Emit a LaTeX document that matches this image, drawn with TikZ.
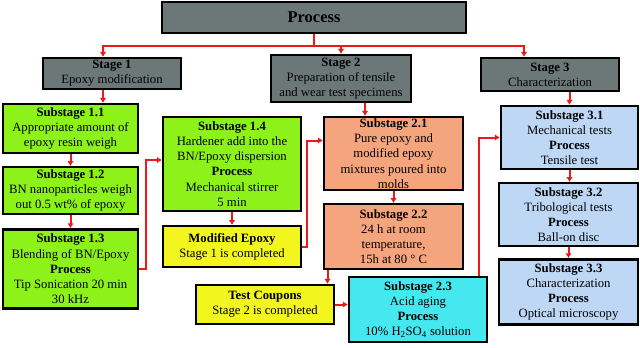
\documentclass[tikz,border=0pt]{standalone}
\usepackage{fontspec}
\setmainfont{Liberation Serif}
\definecolor{EPXGray}{RGB}{108,120,120}
\definecolor{EPXGreen}{RGB}{140,242,25}
\definecolor{EPXYellow}{RGB}{242,245,30}
\definecolor{EPXSalmon}{RGB}{245,165,125}
\definecolor{EPXCyan}{RGB}{70,232,240}
\definecolor{EPXBlue}{RGB}{190,215,245}
\definecolor{EPXRed}{RGB}{235,25,25}
\usepackage{tikz}
\usetikzlibrary{arrows.meta, positioning}
\tikzset{
  box/.style={rectangle, draw=black, line width=2.2pt, inner sep=1pt,
    minimum width=138pt, align=center, font=\fontsize{12.7}{15.2}\selectfont},
  stagebox/.style={box, fill=EPXGray},
  subgreen/.style={box, fill=EPXGreen},
  subyellow/.style={box, fill=EPXYellow},
  subsalmon/.style={box, fill=EPXSalmon},
  subcyan/.style={box, fill=EPXCyan},
  subblue/.style={box, fill=EPXBlue},
  arrow/.style={-{Latex[length=5pt,width=6.5pt]}, line width=2pt, draw=EPXRed}
}

\begin{document}
\begin{tikzpicture}[x=1pt, y=1pt, node distance=12pt]
  \fill[white] (0,0) rectangle (640,-348);
  \useasboundingbox (0,0) rectangle (640,-348);

  \node[stagebox, minimum width=304pt, minimum height=31pt,
    font=\fontsize{16.5}{20}\selectfont\bfseries] (process) at (314,-17.5) {Process};

  % stages
  \node[stagebox, minimum height=31pt] (stage1) at (112,-73.5)
    {\textbf{Stage 1}\\Epoxy modification};
  \node[stagebox, minimum width=140pt, minimum height=47pt] (stage2) at (341,-78.5)
    {\textbf{Stage 2}\\Preparation of tensile\\and wear test specimens};
  \node[stagebox, minimum height=33pt] (stage3) at (550,-74.5)
    {\textbf{Stage 3}\\Characterization};

  % stage 1
  \node[subgreen, minimum width=135pt, minimum height=49pt] (s11) at (70.5,-128.5)
    {\textbf{Substage 1.1}\\Appropriate amount of\\epoxy resin weigh};
  \node[subgreen, minimum width=135pt, minimum height=47pt, below=12pt of s11] (s12)
    {\textbf{Substage 1.2}\\BN nanoparticles weigh\\out 0.5 wt\% of epoxy};
  \node[subgreen, minimum width=135pt, minimum height=79pt, below=13pt of s12] (s13)
    {\textbf{Substage 1.3}\\Blending of BN/Epoxy\\\textbf{Process}\\Tip Sonication 20 min\\30 kHz};
  \node[subgreen, minimum height=94pt] (s14) at (232,-164)
    {\textbf{Substage 1.4}\\Hardener add into the\\BN/Epoxy dispersion\\\textbf{Process}\\Mechanical stirrer\\5 min};
  \node[subyellow, minimum height=41pt, below=13pt of s14] (mod)
    {\textbf{Modified Epoxy}\\Stage 1 is completed};

  % stage 2
  \node[subsalmon, minimum width=139pt, minimum height=73pt] (s21) at (393.5,-153.5)
    {\textbf{Substage 2.1}\\Pure epoxy and\\modified epoxy\\mixtures poured into\\molds};
  \node[subsalmon, minimum width=139pt, minimum height=65pt, below=12pt of s21] (s22)
    {\textbf{Substage 2.2}\\24 h at room\\temperature,\\15h at 80 ° C};
  \node[subyellow, minimum height=39pt] (coup) at (265,-304.5)
    {\textbf{Test Coupons}\\Stage 2 is completed};
  \node[subcyan, minimum height=65pt] (s23) at (418,-309.5)
    {\textbf{Substage 2.3}\\Acid aging\\\textbf{Process}\\10\% H\textsubscript{2}SO\textsubscript{4} solution};

  % stage 3
  \node[subblue, minimum width=137pt, minimum height=63pt] (s31) at (569.5,-137.5)
    {\textbf{Substage 3.1}\\Mechanical tests\\\textbf{Process}\\Tensile test};
  \node[subblue, minimum width=139pt, minimum height=63pt, below=12pt of s31, xshift=-1pt] (s32)
    {\textbf{Substage 3.2}\\Tribological tests\\\textbf{Process}\\Ball-on disc};
  \node[subblue, minimum width=139pt, minimum height=65pt, below=11pt of s32] (s33)
    {\textbf{Substage 3.3}\\Characterization\\\textbf{Process}\\Optical microscopy};

  \draw[arrow] (process.south) -- ++(0,-12) -| ([xshift=-9pt]stage1.north);
  \draw[arrow] (process.south) -- ++(0,-12) -| (stage2.north);
  \draw[arrow] (process.south) -- ++(0,-12) -| ([xshift=-26pt]stage3.north);

  \draw[arrow] ([xshift=-9pt]stage1.south) -- ([xshift=-9pt]stage1.south |- s11.north);
  \draw[arrow] (s11) -- (s12);
  \draw[arrow] (s12) -- (s13);
  \draw[arrow] (s13.east) -- ++(7,0) |- ([yshift=4pt]s14.west);
  \draw[arrow] (s14) -- (mod);
  \draw[arrow] (mod.east) -- ++(5,0) |- ([yshift=13pt]s21.west);

  \draw[arrow] ([xshift=24pt]stage2.south) -- ([xshift=24pt]stage2.south |- s21.north);
  \draw[arrow] (s21) -- (s22);
  \draw[arrow] ([xshift=-66pt]s22.south) -- ([xshift=-66pt]s22.south |- coup.north);
  \draw[arrow] (coup.east) -- (coup.east -| s23.west);
  \draw[arrow] ([xshift=61pt]s23.north) |- (s31.west);

  \draw[arrow] (s31.north |- stage3.south) -- (s31.north);
  \draw[arrow] (s31.south) -- (s31.south |- s32.north);
  \draw[arrow] (s32) -- (s33);
\end{tikzpicture}
\end{document}
